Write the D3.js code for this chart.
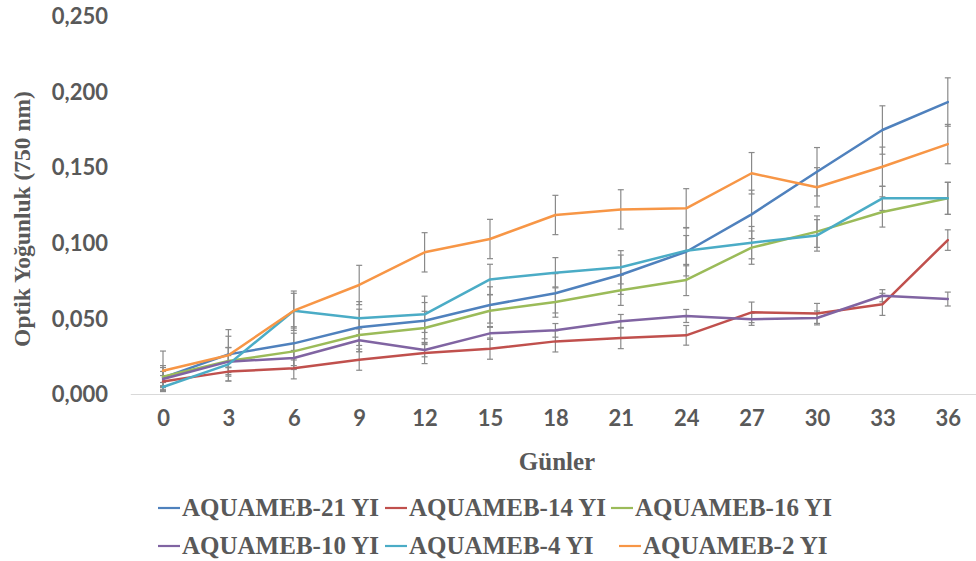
<!DOCTYPE html>
<html>
<head>
<meta charset="utf-8">
<script src="https://cdn.jsdelivr.net/npm/d3@7"></script>
<style>
  html, body { margin: 0; padding: 0; background: #fff; }
  svg { display: block; }
</style>
</head>
<body>
<svg id="chart" width="976" height="561"></svg>
<script>
// Sampling days (category axis)
const days = [0, 3, 6, 9, 12, 15, 18, 21, 24, 27, 30, 33, 36];

// Y axis tick values
const yTicks = [0, 0.05, 0.10, 0.15, 0.20, 0.25];

// Series names, in legend order
const seriesNames = ["AQUAMEB-21 YI", "AQUAMEB-14 YI", "AQUAMEB-16 YI",
                     "AQUAMEB-10 YI", "AQUAMEB-4 YI", "AQUAMEB-2 YI"];

// Mean optical density (750 nm) per day
const od21 = [0.0108, 0.0262, 0.0335, 0.0441, 0.0485, 0.0589, 0.0666, 0.0789, 0.0941, 0.1188, 0.1470, 0.1746, 0.1931];
const od14 = [0.0082, 0.0148, 0.0170, 0.0227, 0.0271, 0.0300, 0.0348, 0.0370, 0.0388, 0.0540, 0.0533, 0.0593, 0.1018];
const od16 = [0.0115, 0.0218, 0.0282, 0.0390, 0.0437, 0.0551, 0.0608, 0.0686, 0.0754, 0.0968, 0.1074, 0.1204, 0.1294];
const od10 = [0.0099, 0.0214, 0.0238, 0.0355, 0.0291, 0.0401, 0.0421, 0.0481, 0.0516, 0.0494, 0.0503, 0.0650, 0.0628];
const od4  = [0.0046, 0.0196, 0.0551, 0.0501, 0.0527, 0.0758, 0.0802, 0.0838, 0.0948, 0.1001, 0.1049, 0.1294, 0.1294];
const od2  = [0.0154, 0.0256, 0.0551, 0.0721, 0.0937, 0.1025, 0.1184, 0.1221, 0.1228, 0.1460, 0.1367, 0.1503, 0.1653];

// Standard deviations (error bars)
const sd21 = [0.008, 0.012, 0.011, 0.012, 0.012, 0.012, 0.013, 0.013, 0.016, 0.016, 0.016, 0.016, 0.016];
const sd14 = [0.004, 0.003, 0.007, 0.007, 0.007, 0.007, 0.007, 0.007, 0.0065, 0.0068, 0.0066, 0.0073, 0.0068];
const sd16 = [0.006, 0.009, 0.012, 0.011, 0.011, 0.0105, 0.010, 0.010, 0.0103, 0.011, 0.0104, 0.010, 0.0106];
const sd10 = [0.005, 0.004, 0.005, 0.0075, 0.0045, 0.004, 0.0045, 0.0045, 0.0043, 0.004, 0.0046, 0.004, 0.0046];
const sd4  = [0.003, 0.011, 0.0115, 0.011, 0.012, 0.010, 0.010, 0.011, 0.010, 0.0107, 0.0104, 0.008, 0.0106];
const sd2  = [0.013, 0.017, 0.013, 0.013, 0.013, 0.013, 0.013, 0.013, 0.013, 0.0137, 0.013, 0.013, 0.013];

const colors = ["#4F81BD", "#C0504D", "#9BBB59", "#8064A2", "#4BACC6", "#F79646"];

const means = [od21, od14, od16, od10, od4, od2];
const errs  = [sd21, sd14, sd16, sd10, sd4, sd2];

const series = seriesNames.map((name, i) => ({
  name,
  color: colors[i],
  points: days.map((d, j) => ({ day: d, v: means[i][j], e: errs[i][j] }))
}));

const svg = d3.select("#chart");
const textColor = "#595959";
const tickFont = "Lato, 'Open Sans', sans-serif";
const titleFont = "'Liberation Serif', 'Times New Roman', serif";

const x = d3.scalePoint().domain(days).range([130.3, 980.5]).padding(0.5);
const y = d3.scaleLinear().domain([0, 0.25]).range([394, 16]);

const locale = d3.formatLocale({ decimal: ",", thousands: ".", grouping: [3], currency: ["", ""] });
const fmt = locale.format(".3f");

// Y axis: labels only
const yAxis = svg.append("g")
  .attr("transform", "translate(108,0)")
  .call(d3.axisLeft(y).tickValues(yTicks).tickFormat(fmt).tickSize(0).tickPadding(0));
yAxis.select(".domain").remove();
yAxis.selectAll("text")
  .attr("font-family", tickFont)
  .attr("font-weight", "bold")
  .attr("font-size", 22)
  .attr("fill", textColor)
  .attr("dy", "0.35em");

// X axis: baseline plus labels
const xAxis = svg.append("g")
  .attr("transform", "translate(0,394)")
  .call(d3.axisBottom(x).tickSize(0).tickPadding(24));
xAxis.select(".domain").attr("stroke", "#d9d9d9").attr("stroke-width", 1.2);
xAxis.selectAll("text")
  .attr("font-family", tickFont)
  .attr("font-weight", "bold")
  .attr("font-size", 22)
  .attr("fill", textColor)
  .attr("dy", "0.35em");

// Error bars
const capHalf = 3;
const errG = svg.append("g").attr("stroke", "#8a8a8a").attr("stroke-width", 1.2).attr("fill", "none");
series.forEach(s => {
  s.points.forEach(p => {
    const cx = x(p.day);
    const y0 = y(p.v - p.e), y1 = y(p.v + p.e);
    errG.append("line").attr("x1", cx).attr("x2", cx).attr("y1", y0).attr("y2", y1);
    errG.append("line").attr("x1", cx - capHalf).attr("x2", cx + capHalf).attr("y1", y0).attr("y2", y0);
    errG.append("line").attr("x1", cx - capHalf).attr("x2", cx + capHalf).attr("y1", y1).attr("y2", y1);
  });
});

// Series lines
const line = d3.line().x(p => x(p.day)).y(p => y(p.v));
svg.append("g").selectAll("path")
  .data(series)
  .join("path")
  .attr("d", s => line(s.points))
  .attr("fill", "none")
  .attr("stroke", s => s.color)
  .attr("stroke-width", 2.5)
  .attr("stroke-linejoin", "round")
  .attr("stroke-linecap", "round");

// Axis titles
svg.append("text")
  .attr("x", 557).attr("y", 470)
  .attr("text-anchor", "middle")
  .attr("font-family", titleFont)
  .attr("font-weight", "bold")
  .attr("font-size", 25)
  .attr("fill", textColor)
  .text("Günler");

svg.append("text")
  .attr("transform", "translate(30,219) rotate(-90)")
  .attr("text-anchor", "middle")
  .attr("font-family", titleFont)
  .attr("font-weight", "bold")
  .attr("font-size", 23.5)
  .attr("fill", textColor)
  .text("Optik Yoğunluk (750 nm)");

// Legend (two rows of three)
const legendPos = [
  [158, 508], [385, 508], [611, 508],
  [158, 546], [385, 546], [619, 546]
];
const legend = svg.append("g");
series.forEach((s, i) => {
  const [lx, ly] = legendPos[i];
  const g = legend.append("g").attr("transform", `translate(${lx},${ly})`);
  g.append("line").attr("x1", 0).attr("x2", 22).attr("y1", 0).attr("y2", 0)
    .attr("stroke", s.color).attr("stroke-width", 2.2);
  g.append("text")
    .attr("x", 24).attr("y", 8)
    .attr("font-family", titleFont)
    .attr("font-weight", "bold")
    .attr("font-size", 25)
    .attr("fill", textColor)
    .text(s.name);
});
</script>
</body>
</html>
